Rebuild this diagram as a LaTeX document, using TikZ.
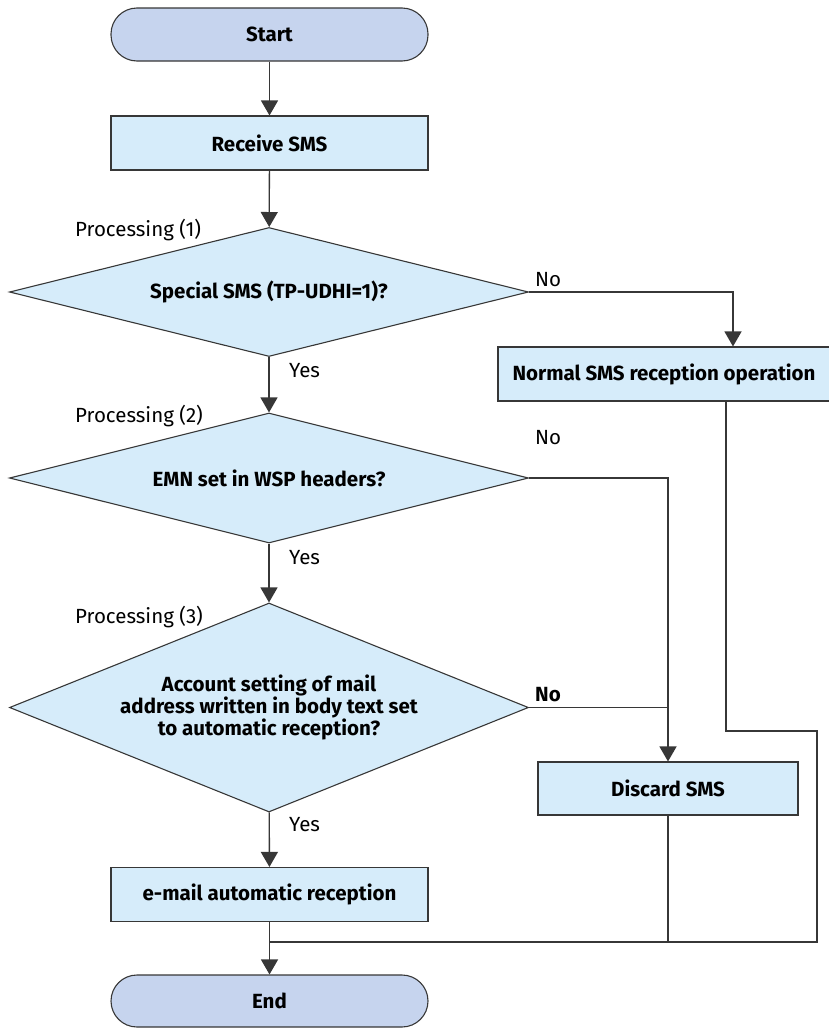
\documentclass[tikz,border=0pt]{standalone}
\usepackage{fontspec}
\setmainfont{Fira Sans}
\usetikzlibrary{shapes.geometric,arrows.meta}

\definecolor{termfill}{RGB}{198,212,238}
\definecolor{stepfill}{RGB}{214,236,250}
\definecolor{linegray}{RGB}{55,55,55}

\newcommand\figfont{\fontsize{20.5}{22}\selectfont}

\tikzset{
  term/.style={draw=linegray, line width=1.1pt, fill=termfill, rounded corners=26pt,
    minimum width=317pt, minimum height=53pt, font=\figfont\bfseries},
  stepbox/.style={draw=linegray, line width=1.1pt, fill=stepfill,
    minimum width=317pt, minimum height=54pt, font=\figfont\bfseries},
  decision/.style={draw=linegray, line width=1.1pt, fill=stepfill, diamond, aspect=3,
    inner sep=0pt, minimum width=519pt, font=\figfont\bfseries, align=center},
  flow/.style={draw=linegray, line width=1.3pt},
  arr/.style={flow, -{Triangle[width=17pt,length=15pt]}},
  lbl/.style={inner sep=0pt, anchor=base west, font=\figfont},
}

\begin{document}
\begin{tikzpicture}[x=1pt, y=-1pt]

    \useasboundingbox (0,0) rectangle (829,1028);

    \node[term] (start) at (269.5,34.5) {Start};
    \node[stepbox] (receive) at (269.5,143) {Receive SMS};
    \node[decision, minimum height=129pt] (q1) at (269,292) {Special SMS (TP-UDHI=1)?};
    \node[decision, minimum height=130pt] (q2) at (269,478) {EMN set in WSP headers?};
    \node[decision, minimum height=209pt] (q3) at (269,707.5)
        {Account setting of mail\\address written in body text set\\to automatic reception?};
    \node[stepbox] (mail) at (269.5,894.5) {e-mail automatic reception};
    \node[term, minimum height=52pt] (end) at (269.5,1001) {End};

    \node[stepbox, minimum width=332pt] (normal) at (664,374) {Normal SMS reception operation};
    \node[stepbox, minimum width=260pt, minimum height=53pt] (discard) at (668,788.5) {Discard SMS};

    \node[lbl] (p1) at (75,236) {Processing (1)};
    \node[lbl] (p2) at (75,422) {Processing (2)};
    \node[lbl] (p3) at (75,623) {Processing (3)};
    \node[lbl] (y1) at (289,377) {Yes};
    \node[lbl] (y2) at (289,564) {Yes};
    \node[lbl] (y3) at (289,831) {Yes};
    \node[lbl] (n1) at (535,286) {No};
    \node[lbl] (n2) at (535,444) {No};
    \node[lbl, font=\figfont\bfseries] (n3) at (535,701) {No};

    \coordinate (c1) at (733,292);
    \coordinate (c2) at (726,731);
    \coordinate (c3) at (817,731);
    \coordinate (c4) at (817,942);
    \coordinate (j) at (269.5,942);

    \draw[arr] (start) -- (receive);
    \draw[arr] (receive) -- (q1);
    \draw[arr] (q1) -- (q2);
    \draw[arr] (q2) -- (q3);
    \draw[arr] (q3) -- (mail);
    \draw[arr] (mail) -- (end);

    \draw[arr] (q1.east) -- (c1) -- (c1 |- normal.north);
    \draw[arr] (q2.east) -| (discard.north);
    \draw[flow] (q3.east) -- (q3.east -| discard.north);

    \draw[flow] (normal.south -| c2) -- (c2) -- (c3) -- (c4) -- (j);
    \draw[flow] (discard.south) -- (discard.south |- j);

\end{tikzpicture}
\end{document}
